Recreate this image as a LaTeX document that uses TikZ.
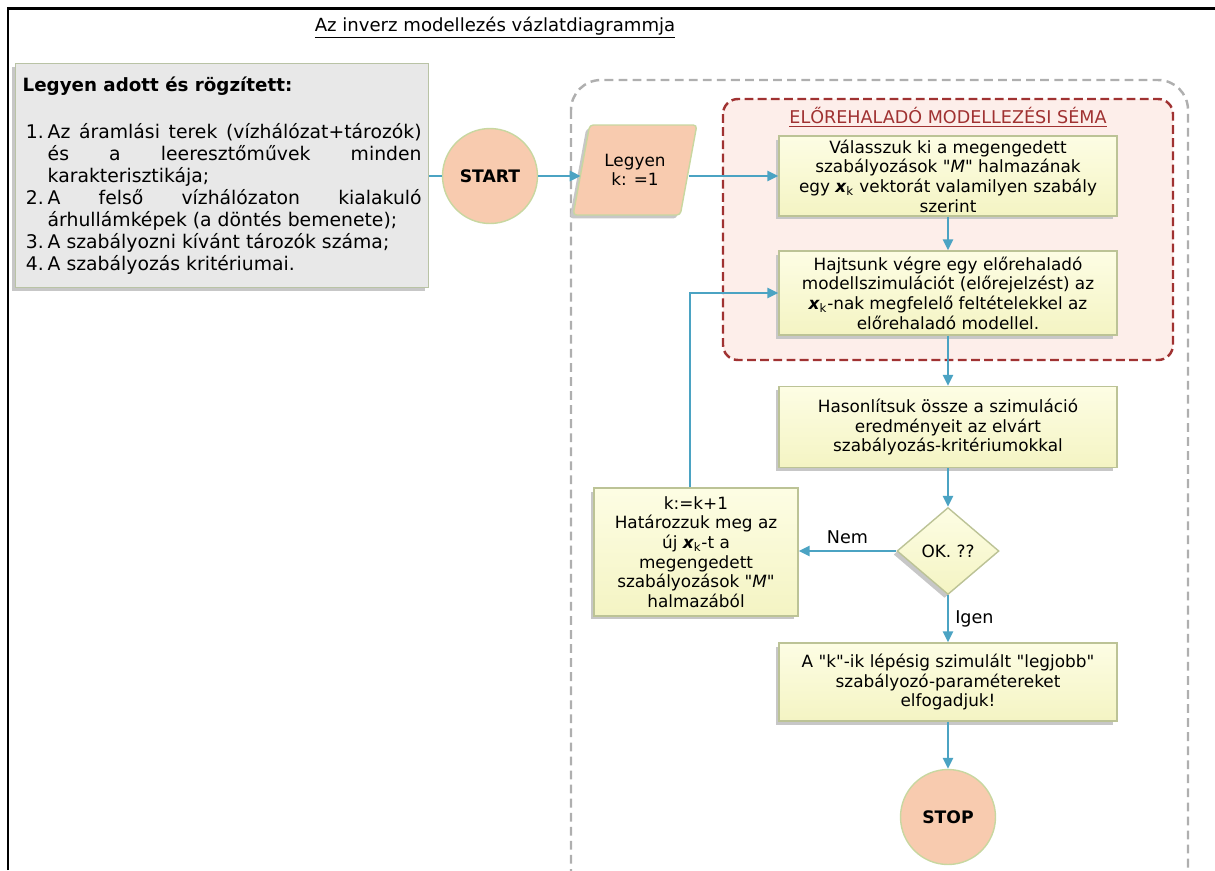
\documentclass[tikz,border=0pt]{standalone}
\usepackage{fontspec}
\setmainfont{DejaVu Sans}
\usepackage{xcolor}
\usepackage{tikz}
\usetikzlibrary{shapes.geometric,arrows.meta,positioning,shadows,calc}

\definecolor{flowblue}{RGB}{75,163,195}
\definecolor{peach}{RGB}{248,203,175}
\definecolor{termline}{RGB}{200,215,160}
\definecolor{boxtop}{RGB}{253,253,228}
\definecolor{boxbot}{RGB}{244,244,195}
\definecolor{boxline}{RGB}{188,195,150}
\definecolor{givenfill}{RGB}{232,232,232}
\definecolor{givenline}{RGB}{185,195,165}
\definecolor{schemefill}{RGB}{253,238,234}
\definecolor{schemeline}{RGB}{160,50,50}
\definecolor{outerline}{RGB}{175,175,175}

\newcommand{\xk}{{\bfseries\itshape x}\textsubscript{k}}
\newcommand{\qt}{\textquotedbl}
\newlength{\itemind}
\setlength{\itemind}{0.5cm}
\newcommand{\givenitem}[1]{\par\hangindent=\itemind\hangafter=1\noindent\hbox to \itemind{#1\hfil}}

\begin{document}
\begin{tikzpicture}[x=0.02cm, y=-0.02cm,
    every node/.style={font=\fontsize{9.6}{11.2}\selectfont},
    flow/.style={-{Triangle[length=2.2mm,width=2mm]}, line width=1.6pt, flowblue},
    shade/.style={drop shadow={shadow xshift=-0.07cm, shadow yshift=-0.07cm, fill=black!22, opacity=1}},
    stepbox/.style={rectangle, draw=boxline, line width=0.8pt, top color=boxtop, bottom color=boxbot, align=center, minimum width=6.76cm, inner sep=2pt, shade},
    terminal/.style={circle, draw=termline, line width=0.8pt, fill=peach, font=\fontsize{9.8}{11}\selectfont\bfseries, minimum size=1.9cm},
    decision/.style={diamond, draw=boxline, line width=0.8pt, top color=boxtop, bottom color=boxbot, minimum width=2.04cm, minimum height=1.74cm, inner sep=0pt, shade},
    edgelabel/.style={text=black, font=\fontsize{10}{12}\selectfont}]

    \useasboundingbox (0,0) rectangle (1215,870);
    \clip (0,0) rectangle (1215,870);

    % frame
    \draw[line width=0.06cm] (8,870) -- (8,8) -- (1215,8);

    % groups
    \draw[outerline, line width=1.4pt, dash pattern=on 5pt off 3pt, rounded corners=0.6cm] (571,80) rectangle (1188,910);
    \draw[schemeline, fill=schemefill, line width=1.4pt, dash pattern=on 5pt off 2.5pt, rounded corners=0.3cm] (723,99) rectangle (1173,360);

    \node[font=\fontsize{10.3}{12}\selectfont] (title) at (495,28) {\underline{Az inverz modellezés vázlatdiagrammja}};
    \node[text=schemeline, font=\fontsize{10}{12}\selectfont] (scheme) at (948,117) {\underline{ELŐREHALADÓ MODELLEZÉSI SÉMA}};

    % given data
    \node[rectangle, draw=givenline, line width=0.8pt, fill=givenfill, shade, anchor=north west, minimum width=8.26cm, minimum height=4.48cm, text width=7.98cm, inner xsep=0.14cm, align=justify, font=\fontsize{10.7}{12.5}\selectfont] (given) at (15,63) {%
        \noindent{\bfseries\fontsize{10.4}{12.5}\selectfont Legyen adott és rögzített:}\par\vspace{14pt}
        \givenitem{\,1.}Az áramlási terek (vízhálózat+tározók)\linebreak és a leeresztőművek minden\linebreak karakterisztikája;
        \givenitem{\,2.}A felső vízhálózaton kialakuló\linebreak árhullámképek (a döntés bemenete);
        \givenitem{\,3.}A szabályozni kívánt tározók száma;
        \givenitem{\,4.}A szabályozás kritériumai.\par};

    % flow
    \node[terminal] (start) at (490,176) {START};
    \node[trapezium, trapezium left angle=73, trapezium right angle=107, trapezium stretches=true, rounded corners=2pt, draw=termline, line width=0.8pt, fill=peach, minimum width=2.48cm, minimum height=1.8cm, align=center, shade] (init) at (635,170) {Legyen\\k: =1};
    \node[stepbox, minimum height=1.56cm] (pick) at (948,176) {Válasszuk ki a megengedett\\szabályozások \qt\textit{M}\qt{} halmazának\\egy \xk{} vektorát valamilyen szabály\\szerint};
    \node[stepbox, minimum height=1.68cm] (sim) at (948,293) {Hajtsunk végre egy előrehaladó\\modellszimulációt (előrejelzést) az\\\xk-nak megfelelő feltételekkel az\\előrehaladó modellel.};
    \node[stepbox, minimum height=1.62cm] (compare) at (948,427) {Hasonlítsuk össze a szimuláció\\eredményeit az elvárt\\szabályozás-kritériumokkal};
    \node[decision] (ok) at (948,551) {OK. ??};
    \node[stepbox, minimum width=4.08cm, minimum height=2.56cm] (update) at (696,552) {k:=k+1\\Határozzuk meg az\\új \xk-t a\\megengedett\\szabályozások \qt\textit{M}\qt\\halmazából};
    \node[stepbox, minimum height=1.56cm] (accept) at (948,682) {A \qt k\qt-ik lépésig szimulált \qt legjobb\qt\\szabályozó-paramétereket\\elfogadjuk!};
    \node[terminal] (stop) at (948,817) {STOP};

    \draw[line width=1.6pt, flowblue] (given.east |- start) -- (start);
    \draw[flow] (start) -- (start -| init.west);
    \draw[flow] (init.east |- pick) -- (pick);
    \draw[flow] (pick) -- (sim);
    \draw[flow] (sim) -- (compare);
    \draw[flow] (compare) -- (ok);
    \draw[flow] (ok) -- (ok -| update.east) node[midway, above, edgelabel] {Nem};
    \draw[flow] ($(update.north)+(-6,0)$) |- (sim.west);
    \draw[flow] (ok) -- (accept) node[midway, right, edgelabel] {Igen};
    \draw[flow] (accept) -- (stop);
\end{tikzpicture}
\end{document}
